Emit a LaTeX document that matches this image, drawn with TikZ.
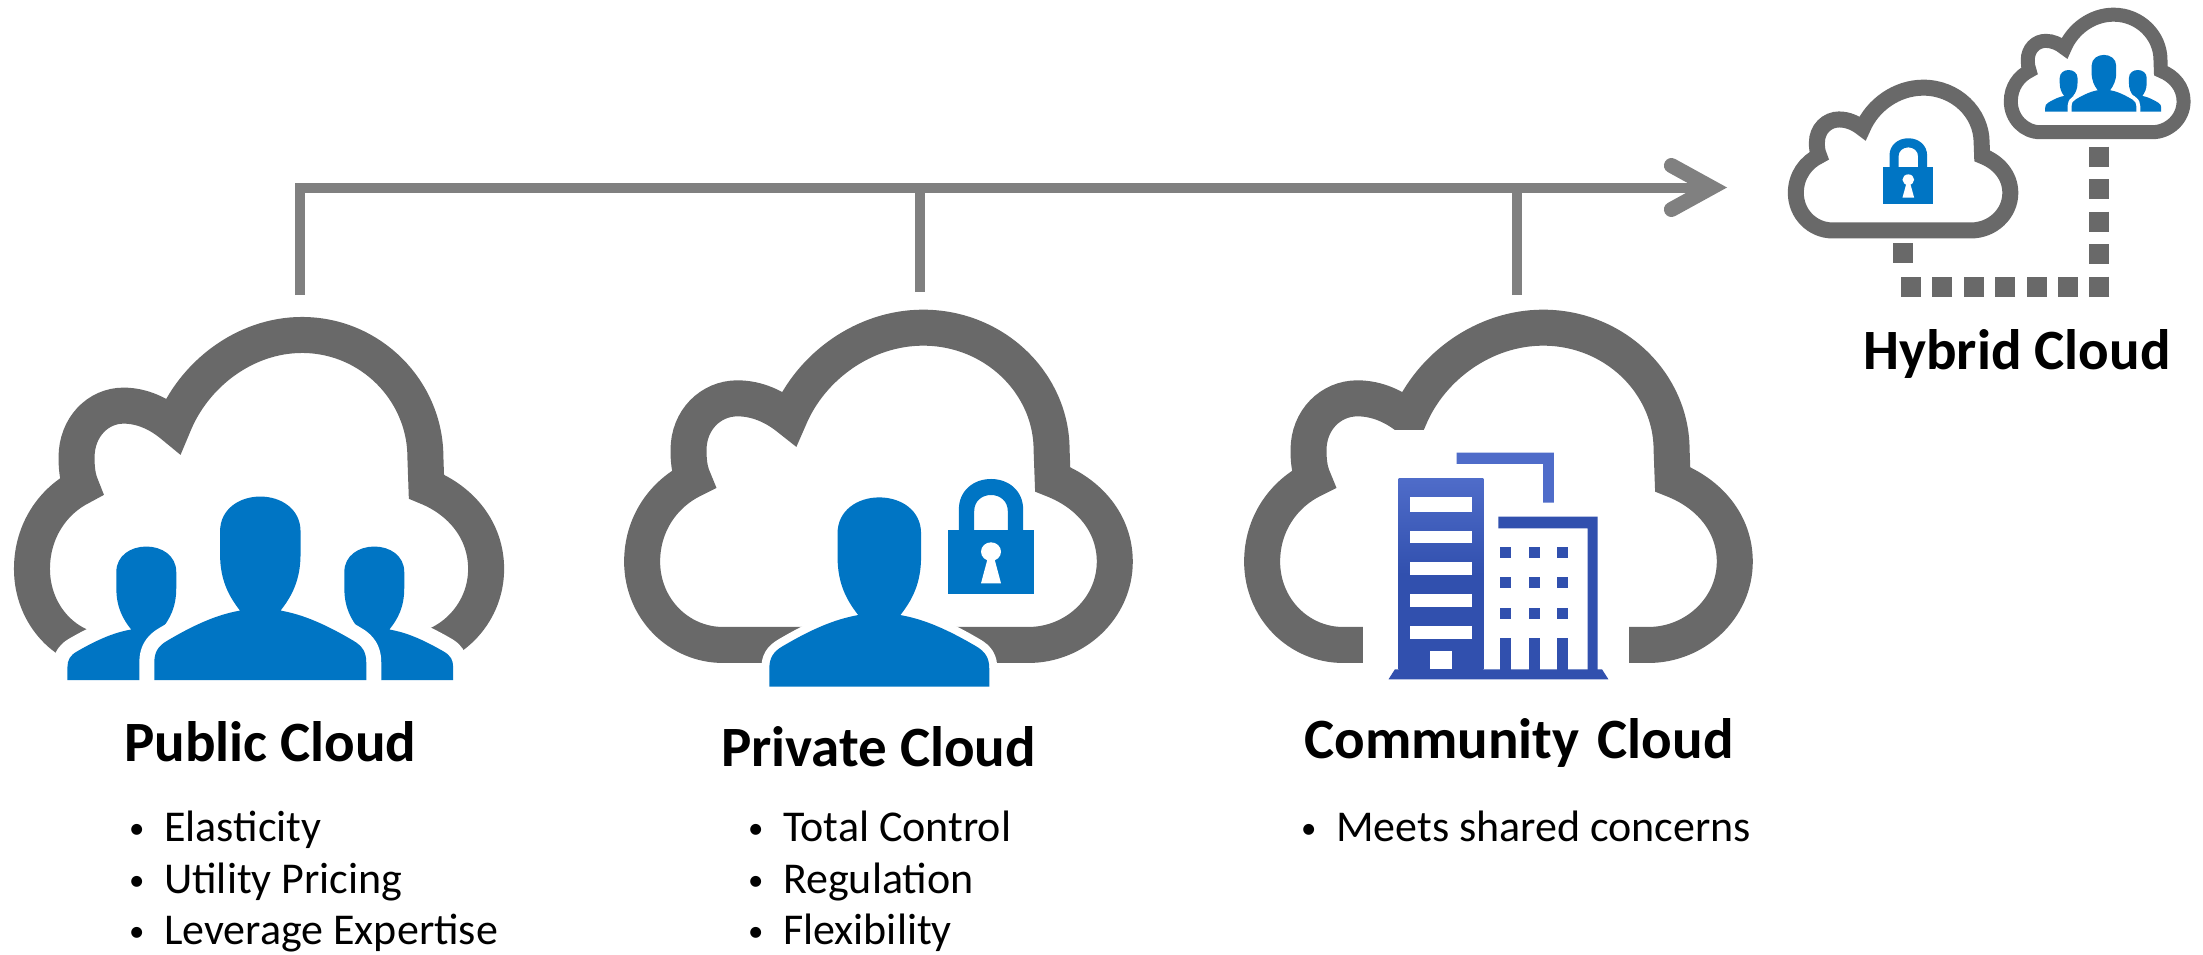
\documentclass[tikz,border=0pt]{standalone}
\usepackage{fontspec}
\setmainfont{Carlito}
\usetikzlibrary{arrows.meta}
\definecolor{cloudgray}{HTML}{696969}
\definecolor{linegray}{HTML}{808080}
\definecolor{iconblue}{HTML}{0075C4}
\definecolor{towerblue}{HTML}{3150AE}
\definecolor{roofblue}{HTML}{4F6CC9}
\newcommand{\bulletmark}{\makebox[35pt][l]{\raisebox{3pt}{\scalebox{.7}{\textbullet}}}}
\tikzset{
    cloudshape/.pic={
        \draw[cloudgray, line width=#1, line join=miter]
            (345,1065) .. controls (220,1065) and (118,955) .. (118,815)
            .. controls (118,700) and (180,610) .. (262,568)
            .. controls (250,540) and (248,510) .. (248,480)
            .. controls (248,390) and (310,325) .. (385,325)
            .. controls (440,325) and (490,350) .. (530,385)
            .. controls (590,230) and (740,113) .. (905,113)
            .. controls (1105,113) and (1265,280) .. (1265,480)
            -- (1268,568)
            .. controls (1370,610) and (1442,700) .. (1442,815)
            .. controls (1442,955) and (1330,1065) .. (1200,1065) -- cycle;
    },
    personicon/.pic={
        \draw[white, line width=#1, fill=white, line join=round] \personoutline;
        \fill[iconblue] \personoutline;
    },
    lockicon/.pic={
        \fill[iconblue]
            (-90,-188) -- (-90,-255) .. controls (-90,-310) and (-50,-346) .. (0,-346)
            .. controls (50,-346) and (90,-310) .. (90,-255) -- (90,-188) -- (47,-188)
            -- (47,-250) .. controls (47,-280) and (25,-298) .. (0,-298)
            .. controls (-25,-298) and (-47,-280) .. (-47,-250) -- (-47,-188) -- cycle;
        \fill[iconblue] (-120,-193) rectangle (120,0);
        \fill[white] (-28,-33) -- (-10,-105) -- (10,-105) -- (28,-33) -- cycle;
        \fill[white] (0,-128) circle [radius=28pt];
    },
    buildingicon/.pic={
        \fill[white] (400,420) rectangle (1145,1172);
        \fill[roofblue] (663,488) -- (935,488) -- (935,638) -- (905,638)
            -- (905,522) -- (663,522) -- cycle;
        \fill[top color=roofblue, bottom color=towerblue, middle color=towerblue]
            (500,565) rectangle (738,1140);
        \fill[towerblue] (780,680) -- (1058,680) -- (1058,1140) -- (1030,1140)
            -- (1030,715) -- (780,715) -- cycle;
        \fill[towerblue] (472,1168) -- (490,1138) -- (1070,1138) -- (1088,1168) -- cycle;
        \foreach \ya/\yb in {622/665, 722/760, 815/855, 912/950, 1008/1047}
            \fill[white] (533,\ya) rectangle (705,\yb);
        \fill[white] (587,1082) rectangle (650,1138);
        \foreach \xa in {783, 865, 943} {
            \foreach \ya in {772, 860, 955}
                \fill[towerblue] (\xa,\ya) rectangle (\xa+32,\ya+33);
            \fill[towerblue] (\xa,1045) rectangle (\xa+32,1140);
        }
    }
}
\newcommand{\personoutline}{(-59,-215) .. controls (-92,-260) and (-117,-310) .. (-117,-390)
    -- (-117,-460) .. controls (-117,-530) and (-60,-568) .. (0,-568)
    .. controls (60,-568) and (117,-530) .. (117,-460) -- (117,-390)
    .. controls (117,-310) and (92,-260) .. (59,-215)
    .. controls (110,-205) and (170,-185) .. (270,-122)
    .. controls (298,-105) and (308,-85) .. (308,-55) -- (308,0) -- (-308,0) -- (-308,-55)
    .. controls (-308,-85) and (-298,-105) .. (-270,-122)
    .. controls (-170,-185) and (-110,-205) .. (-59,-215) -- cycle}
\begin{document}
\begin{tikzpicture}[
    x=1pt, y=-1pt,
    title/.style={font=\fontsize{57}{66}\selectfont\bfseries, anchor=base west, inner sep=0pt},
    perks/.style={font=\fontsize{44}{51.5}\selectfont, align=left, anchor=north west, inner sep=0pt},
    trunk/.style={draw=linegray, line width=10pt},
    hybriddash/.style={draw=cloudgray, line width=20pt}
]
\useasboundingbox[fill=white] (0,0) rectangle (2203,954);

\pic[xscale=.343, yscale=.3333] at (-8.5,297.3) {cloudshape=36pt};
\pic[xscale=.256, yscale=.235] at (146.3,680) {personicon=30pt};
\pic[xscale=.256, yscale=.235] at (374.3,680) {personicon=30pt};
\pic[xscale=.344, yscale=.323] at (260.3,680) {personicon=30pt};

\pic[xscale=.357, yscale=.3333] at (600,290) {cloudshape=36pt};
\pic[xscale=.357, yscale=.3333] at (879.3,686.7) {personicon=16pt};
\pic[xscale=.357, yscale=.3333] at (991,594.3) {lockicon};

\pic[xscale=.357, yscale=.3333] at (1220,290) {cloudshape=36pt};
\pic[xscale=.357, yscale=.3333] at (1220,290) {buildingicon};

\pic[xscale=.162, yscale=.150] at (1776.7,70.7) {cloudshape=16pt};
\pic[xscale=.209, yscale=.19] at (1908.3,204) {lockicon};
\pic[xscale=.1305, yscale=.1235] at (1995.4,0.7) {cloudshape=14pt};
\pic[xscale=.076, yscale=.0734] at (2068.6,111.7) {personicon=8pt};
\pic[xscale=.076, yscale=.0734] at (2137.8,111.7) {personicon=8pt};
\pic[xscale=.105, yscale=.1] at (2103.9,111.7) {personicon=8pt};

\coordinate (pubstem) at (300,295);
\coordinate (privstem) at (920,292);
\coordinate (commstem) at (1517,295);
\coordinate (arrowend) at (1727,187.5);
\draw[trunk, -{Straight Barb[length=40pt, width=44pt, line width=15pt, line cap=round, line join=miter]}] (pubstem) |- (arrowend);
\draw[trunk] (privstem) -- (privstem |- arrowend);
\draw[trunk] (commstem) -- (commstem |- arrowend);

\coordinate (pubstub) at (2099,146.7);
\coordinate (pubcorner) at (2099,296.7);
\coordinate (hybright) at (2109.4,286.7);
\coordinate (hybleft) at (1892.7,286.7);
\coordinate (privstub) at (1903,243.3);
\coordinate (privcorner) at (1903,263.3);
\draw[hybriddash, dash pattern=on 20pt off 12.5pt] (pubstub) -- (pubcorner);
\draw[hybriddash, dash pattern=on 20pt off 11.45pt] (hybright) -- (hybleft);
\draw[hybriddash] (privstub) -- (privcorner);

\node[title] (pubtitle) at (124,761) {Public Cloud};
\node[title] (privtitle) at (721,766) {Private Cloud};
\node[title] (commtitle) at (1304,758) {Community\hspace{5pt} Cloud};
\node[title] (hybtitle) at (1863,369) {Hybrid Cloud};

\node[perks] (publist) at (129,811) {\bulletmark Elasticity\\ \bulletmark Utility Pricing\\ \bulletmark Leverage Expertise};
\node[perks] (privlist) at (748,811) {\bulletmark Total Control\\ \bulletmark Regulation\\ \bulletmark Flexibility};
\node[perks] (commlist) at (1301,811) {\bulletmark Meets shared concerns};
\end{tikzpicture}
\end{document}
